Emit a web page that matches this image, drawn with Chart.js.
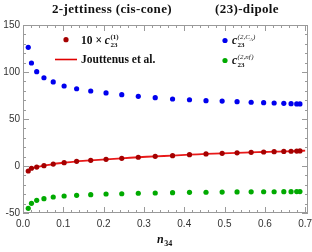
<!DOCTYPE html>
<html>
<head>
<meta charset="utf-8">
<script src="https://cdn.jsdelivr.net/npm/chart.js@4.4.1/dist/chart.umd.min.js"></script>
<style>
	html, body { margin: 0; padding: 0; background: #fff; }
	#chart { display: block; }
</style>
</head>
<body>
<canvas id="chart" width="312" height="252"></canvas>
<script>
// values
var n34 = [0.013, 0.021, 0.034, 0.052, 0.075, 0.102, 0.133, 0.168, 0.206, 0.245, 0.286, 0.328,
	0.371, 0.413, 0.454, 0.494, 0.531, 0.566, 0.597, 0.623, 0.647, 0.665, 0.679, 0.687];
var cCA = [126.3, 109.6, 100.3, 93.9, 89.4, 85.1, 82.2, 79.8, 77.7, 75.9, 74.1, 72.7,
	71.3, 70.5, 69.5, 69.1, 68.4, 67.8, 67.4, 67.0, 66.7, 66.3, 66.0, 66.0];
var c1x10 = [-5.3, -2.4, -1.1, 0.3, 2.1, 3.5, 5.0, 6.0, 7.1, 8.2, 9.3, 10.3,
	11.0, 12.0, 12.8, 13.5, 14.0, 14.5, 14.9, 15.2, 15.5, 15.7, 15.9, 16.0];
var cNf = [-45.0, -39.7, -36.5, -34.8, -33.0, -31.9, -31.2, -30.5, -29.8, -29.5, -29.0, -28.7,
	-28.4, -28.0, -27.9, -27.7, -27.6, -27.5, -27.4, -27.4, -27.3, -27.3, -27.2, -27.2];
// Jouttenus et al. curve
var jouN = [0.010, 0.021, 0.034, 0.052, 0.075, 0.102, 0.133, 0.168, 0.206, 0.245, 0.286, 0.328,
	0.371, 0.413, 0.454, 0.494, 0.531, 0.566, 0.597, 0.623, 0.647, 0.665, 0.687, 0.700];
var jouVal = [-6.0, -2.4, -1.1, 0.3, 2.1, 3.5, 5.0, 6.0, 7.1, 8.2, 9.3, 10.3,
	11.0, 12.0, 12.8, 13.5, 14.0, 14.5, 14.9, 15.2, 15.5, 15.7, 16.0, 16.3];
var xTicks = [0, 0.1, 0.2, 0.3, 0.4, 0.5, 0.6, 0.7];
var yTicks = [-50, 0, 50, 100, 150];

function pts(xs, ys) {
	var out = [];
	for (var i = 0; i < xs.length; i++) out.push({x: xs[i], y: ys[i]});
	return out;
}

var SERIF = '"Liberation Serif", "DejaVu Serif", serif';
var SANS = '"Liberation Sans", Arial, sans-serif';

// draws a run of text pieces, each with its own font and vertical shift
function drawRun(ctx, x, y, parts) {
	ctx.textAlign = 'left';
	ctx.textBaseline = 'alphabetic';
	for (var i = 0; i < parts.length; i++) {
		ctx.font = parts[i][1];
		ctx.fillText(parts[i][0], x, y + (parts[i][2] || 0));
		x += ctx.measureText(parts[i][0]).width + (parts[i][3] || 0);
	}
	return x;
}

function cWithIndex(ctx, x, y, sup) {
	// c with subscript 23 and superscript sup, stacked
	x = drawRun(ctx, x, y, [['c', 'bold italic 11.5px ' + SERIF, 0, 0.5]]);
	ctx.font = 'bold 7px ' + SERIF;
	ctx.fillText('23', x, y + 2.5);
	drawRun(ctx, x, y - 5, sup);
}

var framePlugin = {
	id: 'frame',
	afterDraw: function(chart) {
		var ctx = chart.ctx, a = chart.chartArea;
		var sx = chart.scales.x, sy = chart.scales.y;
		ctx.save();
		ctx.strokeStyle = '#9a9a9a';
		ctx.lineWidth = 1;
		ctx.strokeRect(a.left + 0.5, a.top + 0.5, a.right - a.left - 1, a.bottom - a.top - 1);
		ctx.beginPath();
		var v, p, len, i;
		for (i = 0; i <= 35; i++) {
			v = i * 0.02;
			p = Math.round(sx.getPixelForValue(v)) + 0.5;
			len = (i % 5 === 0) ? 6 : 3;
			ctx.moveTo(p, a.bottom); ctx.lineTo(p, a.bottom - len);
			ctx.moveTo(p, a.top); ctx.lineTo(p, a.top + len);
		}
		for (i = -5; i <= 15; i++) {
			v = i * 10;
			p = Math.round(sy.getPixelForValue(v)) + 0.5;
			len = (i % 5 === 0) ? 6 : 3;
			ctx.moveTo(a.left, p); ctx.lineTo(a.left + len, p);
			ctx.moveTo(a.right, p); ctx.lineTo(a.right - len, p);
		}
		ctx.stroke();

		// titles
		ctx.fillStyle = '#111';
		ctx.textAlign = 'center';
		ctx.textBaseline = 'alphabetic';
		ctx.font = 'bold 13px ' + SERIF;
		ctx.letterSpacing = '0.35px';
		ctx.fillText('2-jettiness (cis-cone)', 112, 13);
		ctx.fillText('(23)-dipole', 247, 13);
		ctx.letterSpacing = '0px';

		// x axis title n_34
		var xt = drawRun(ctx, 157, 243, [['n', 'bold italic 12px ' + SERIF, 0, 0]]);
		ctx.font = 'bold 8px ' + SERIF;
		ctx.fillText('34', xt + 0.5, 246);

		// legend
		ctx.fillStyle = '#a50000';
		ctx.beginPath(); ctx.arc(66, 39.7, 2.6, 0, Math.PI * 2); ctx.fill();
		ctx.fillStyle = '#0000ee';
		ctx.beginPath(); ctx.arc(225, 40.5, 2.6, 0, Math.PI * 2); ctx.fill();
		ctx.fillStyle = '#00aa00';
		ctx.beginPath(); ctx.arc(225, 60.5, 2.6, 0, Math.PI * 2); ctx.fill();
		ctx.strokeStyle = '#e00000';
		ctx.lineWidth = 1.6;
		ctx.beginPath(); ctx.moveTo(55, 59.5); ctx.lineTo(77, 59.5); ctx.stroke();

		ctx.fillStyle = '#111';
		var x1 = drawRun(ctx, 81, 44, [['10 \u00d7 ', 'bold 11.5px ' + SERIF, 0, 0]]);
		cWithIndex(ctx, x1, 44, [['(1)', 'bold 7px ' + SERIF, 0, 0]]);
		drawRun(ctx, 81, 63, [['Jouttenus et al.', 'bold 11.5px ' + SERIF, 0, 0]]);
		cWithIndex(ctx, 232, 44, [['(2,', 'italic 7px ' + SERIF, 0, 0], ['C', 'italic 7px ' + SERIF, 0, 0], ['A', 'italic 5px ' + SERIF, 1.5, 0], [')', 'italic 7px ' + SERIF, 0, 0]]);
		cWithIndex(ctx, 232, 64, [['(2,', 'italic 7px ' + SERIF, 0, 0], ['n', 'italic 7px ' + SERIF, 0, 0], ['f', 'italic 7px ' + SERIF, 0, 0.5], [')', 'italic 7px ' + SERIF, 0, 0]]);
		ctx.restore();
	}
};

var c = new Chart(document.getElementById('chart'), {
	type: 'scatter',
	data: {
		datasets: [
			{label: '10 x c23(1)', data: pts(n34, c1x10), backgroundColor: '#a50000', borderColor: '#a50000', pointRadius: 2.6, borderWidth: 0},
			{label: 'c23(2,CA)', data: pts(n34, cCA), backgroundColor: '#0000ee', borderColor: '#0000ee', pointRadius: 2.6, borderWidth: 0},
			{label: 'c23(2,nf)', data: pts(n34, cNf), backgroundColor: '#00aa00', borderColor: '#00aa00', pointRadius: 2.6, borderWidth: 0},
			{label: 'Jouttenus et al.', data: pts(jouN, jouVal), showLine: true, borderColor: 'rgba(230,0,0,0.9)', borderWidth: 1.8, pointRadius: 0, tension: 0.3}
		]
	},
	options: {
		responsive: false,
		animation: false,
		devicePixelRatio: 1,
		layout: {padding: {left: 0, right: 4, top: 25, bottom: 0}},
		plugins: {legend: {display: false}, tooltip: {enabled: false}, title: {display: false}},
		scales: {
			x: {
				type: 'linear', min: 0, max: 0.707,
				grid: {display: false, drawTicks: false},
				border: {display: false},
				afterBuildTicks: function(s) { s.ticks = xTicks.map(function(v) { return {value: v}; }); },
				afterFit: function(s) { s.height = 39; s.paddingLeft = 0; s.paddingRight = 0; },
				ticks: {padding: 5, color: '#333', font: {family: SANS, size: 10}, maxRotation: 0,
					callback: function(v) { return v.toFixed(1); }}
			},
			y: {
				type: 'linear', min: -50, max: 150,
				grid: {display: false, drawTicks: false},
				border: {display: false},
				afterBuildTicks: function(s) { s.ticks = yTicks.map(function(v) { return {value: v}; }); },
				afterFit: function(s) { s.width = 23; s.paddingTop = 0; s.paddingBottom = 0; },
				ticks: {padding: 3, color: '#333', font: {family: SANS, size: 10}}
			}
		}
	},
	plugins: [framePlugin]
});
</script>
</body>
</html>
